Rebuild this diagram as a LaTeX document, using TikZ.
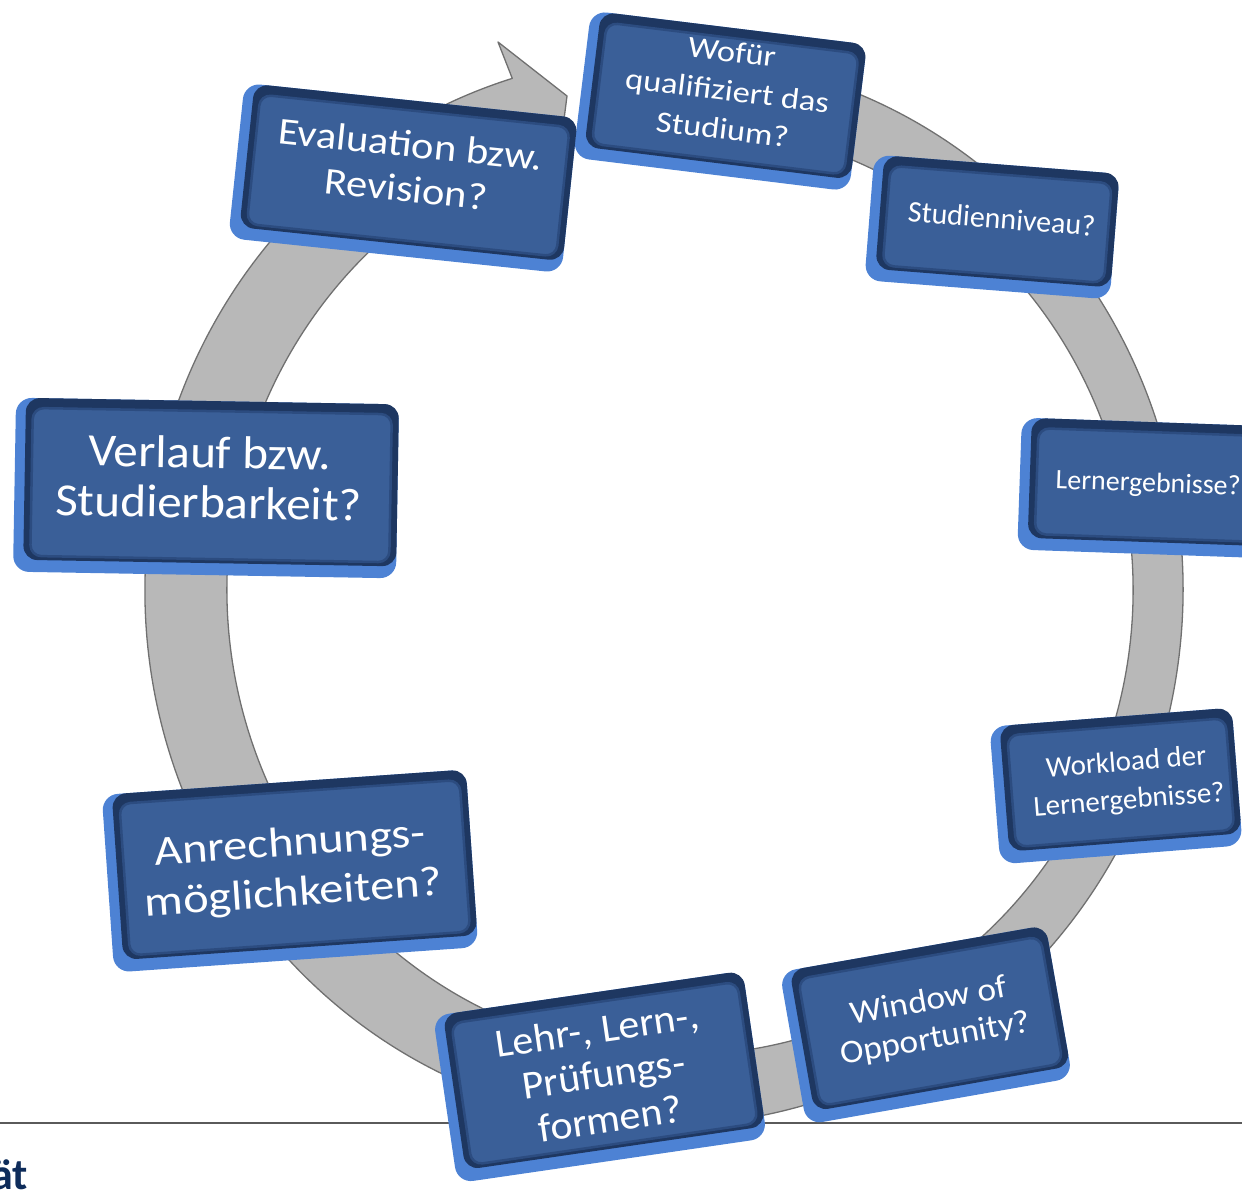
\documentclass[tikz,border=0pt]{standalone}
\usepackage{fontspec}
\setmainfont{Carlito}
\usepackage{graphicx}
\usetikzlibrary{calc}
\definecolor{rimblue}{RGB}{77,130,212}
\definecolor{navyedge}{RGB}{30,55,97}
\definecolor{faceblue}{RGB}{58,95,152}
\definecolor{faceline}{RGB}{44,76,128}
\definecolor{ringfill}{RGB}{184,184,184}
\definecolor{ringline}{RGB}{112,112,112}
\definecolor{rulegray}{RGB}{90,90,90}
\definecolor{uninavy}{RGB}{14,44,90}
\newcommand\boxtext[4]{\scalebox{#3}[1]{\fontsize{#1}{#2}\selectfont\begin{tabular}{@{}c@{}}#4\end{tabular}}}
\tikzset{
  rimbox/.style={fill=rimblue, rounded corners=16pt, inner sep=0pt},
  navybox/.style={fill=navyedge, rounded corners=14pt, inner sep=0pt},
  facebox/.style={fill=faceblue, draw=faceline, line width=2.5pt, rounded corners=11pt, inner sep=0pt},
  qtext/.style={text=white, inner sep=0pt},
  ringarrow/.style={fill=ringfill, draw=ringline, line width=1.3pt, line join=round},
  hrule/.style={draw=rulegray, line width=1.8pt},
}
% name, center, angle, W, H, text offset, text
\newcommand\qbox[7]{%
  \begin{scope}[shift={(#2)}, rotate=#3, transform shape]
    \node[rimbox, minimum width=#4pt, minimum height=#5pt] (#1-rim) at (0,0) {};
    \node[navybox, minimum width=#4pt-10pt, minimum height=#5pt-12pt] (#1-edge) at (5,-6) {};
    \node[facebox, minimum width=#4pt-24pt, minimum height=#5pt-26pt] (#1-face) at (5,-3) {};
    \node[qtext] (#1) at (#6) {#7};
  \end{scope}}
\begin{document}
\begin{tikzpicture}[x=1pt,y=-1pt]
  \useasboundingbox (0,0) rectangle (1242,1191);
  \clip (0,0) rectangle (1242,1191);
  % horizontal rule
  \coordinate (l0) at (0,1123);
  \coordinate (l1) at (1242,1123);
  \draw[hrule] (l0) -- (l1);
  % circular arrow
  \coordinate (oc) at (664,590);
  \coordinate (ic) at (680,590);
  \coordinate (barbA) at (498,42);
  \coordinate (tip) at (567,96);
  \coordinate (barbB) at (556,182);
  \path[ringarrow] ([shift={(oc)}]-80:519 and 535)
     arc[start angle=-80, end angle=253, x radius=519, y radius=535]
     -- (barbA) -- (tip) -- (barbB)
     -- ([shift={(ic)}]253:453 and 465)
     arc[start angle=253, end angle=-80, x radius=453, y radius=465] -- cycle;
  % boxes
  \qbox{wofur}{720,101}{-7}{278}{148}{6,-9}{\boxtext{30}{39}{1.15}{Wofür\\qualifiziert das\\Studium?}}
  \qbox{studien}{992,227}{-4.5}{246}{126}{9,-6}{\boxtext{30}{36}{1.0}{Studienniveau?}}
  \qbox{eval}{403,178}{-6}{335}{156}{4,-8}{\boxtext{38}{45}{1.12}{Evaluation bzw.\\Revision?}}
  \qbox{verlauf}{206,488}{-1}{383}{174}{3,-5}{\boxtext{46}{50}{1.07}{Verlauf bzw.\\Studierbarkeit?}}
  \qbox{lernerg}{1147,488}{-2}{255}{132}{1,-3}{\boxtext{28}{34}{1.0}{Lernergebnisse?}}
  \qbox{workload}{1116,786}{4.5}{243}{138}{12,-3}{\boxtext{29}{38}{1.0}{Workload der\\Lernergebnisse?}}
  \qbox{window}{926,1025}{10}{270}{155}{7,-2}{\boxtext{33}{38}{1.07}{Window of\\Opportunity?}}
  \qbox{lehr}{600,1077}{8.3}{313}{169}{4,2}{\boxtext{40}{45}{1.05}{Lehr-, Lern-,\\Prüfungs-\\formen?}}
  \qbox{anrech}{290,871}{4}{365}{178}{2,0}{\boxtext{42}{50}{1.15}{Anrechnungs-\\möglichkeiten?}}
  % cut-off footer word
  \node[anchor=base east, inner sep=0pt, text=uninavy, font=\fontsize{44}{44}\selectfont\bfseries] (uni) at (28,1189) {ät};
\end{tikzpicture}
\end{document}
